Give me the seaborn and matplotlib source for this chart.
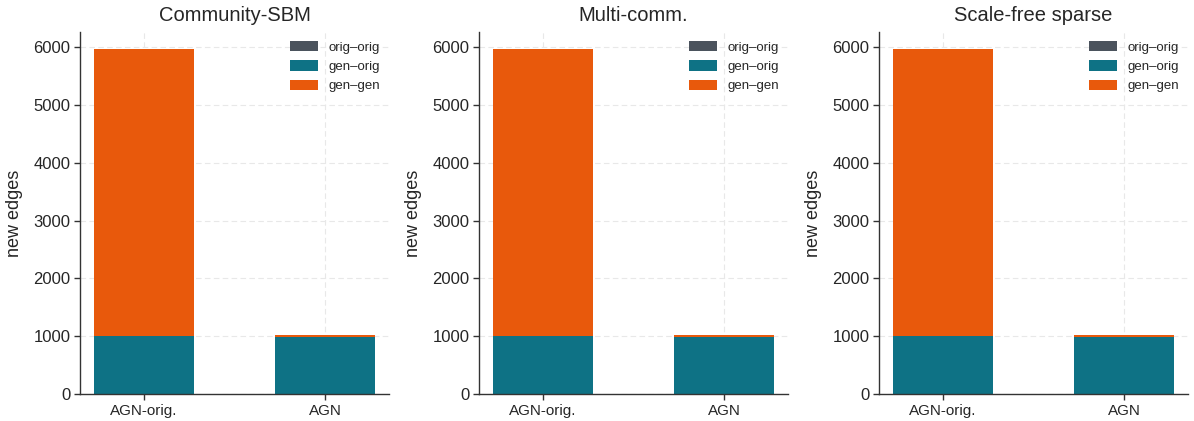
import matplotlib
matplotlib.use("Agg")
import matplotlib.pyplot as plt
import seaborn as sns
import numpy as np

panels = ["Community-SBM", "Multi-comm.", "Scale-free sparse"]
methods = ["AGN-orig.", "AGN"]
series_names = ["orig\u2013orig", "gen\u2013orig", "gen\u2013gen"]
orig_orig = [0, 0]
gen_orig = [995, 990]
gen_gen = [4965, 30]
colors = ["#4b535d", "#0e7285", "#e8590c"]

sns.set_theme(style="whitegrid")
plt.rcParams["font.family"] = ["Liberation Sans", "DejaVu Sans"]

fig = plt.figure(figsize=(11.94, 4.21), dpi=100)
W, H = 1194, 421
lefts = [80, 479, 879]
aw = 309
top, bottom = 32, 394
axes = [fig.add_axes([l / W, 1 - bottom / H, aw / W, (bottom - top) / H]) for l in lefts]

for ax, title in zip(axes, panels):
    ax.set_facecolor("white")
    series = [orig_orig, gen_orig, gen_gen]
    base = np.zeros(len(methods))
    for name, vals, c in zip(series_names, series, colors):
        sns.barplot(x=methods, y=vals, bottom=base.copy(), color=c, width=0.55,
                    label=name, ax=ax, saturation=1, linewidth=0, zorder=2)
        base = base + np.array(vals)
    ax.set_xlim(-0.35, 1.35)
    ax.set_title(title, fontsize=14.5, pad=8)
    ax.set_ylabel("new edges", fontsize=13, labelpad=7)
    ax.set_xlabel("")
    ax.set_ylim(0, 6260)
    ax.set_yticks([0, 1000, 2000, 3000, 4000, 5000, 6000])
    ax.tick_params(axis="y", labelsize=12, length=4, width=1, color="#333333", left=True, pad=3)
    ax.tick_params(axis="x", labelsize=11, length=4, width=1, color="#333333", bottom=True, pad=3)
    ax.grid(True, linestyle=(0, (5, 3)), color="#e8e8e8", linewidth=0.8, zorder=0)
    ax.set_axisbelow(True)
    for s in ["top", "right"]:
        ax.spines[s].set_visible(False)
    for s in ["left", "bottom"]:
        ax.spines[s].set_color("#333333")
        ax.spines[s].set_linewidth(1.0)
    ax.legend(loc="upper right", frameon=False, fontsize=9.5, handlelength=2.1,
              handleheight=0.8, labelspacing=0.5, borderaxespad=0.3)

fig.savefig("out.png", dpi=100)
